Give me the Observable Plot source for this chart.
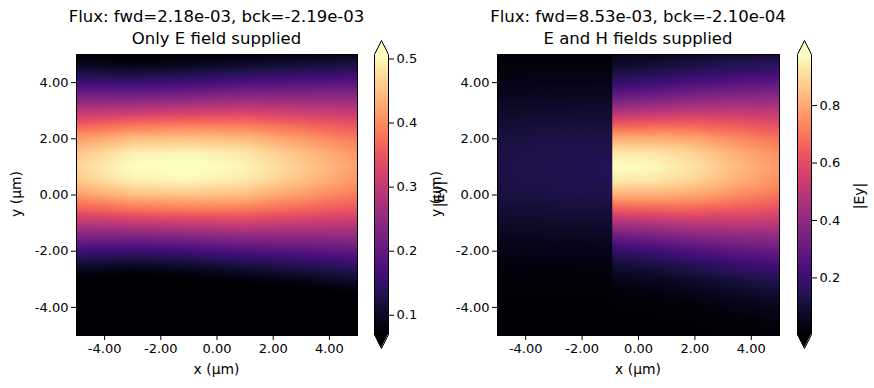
<!DOCTYPE html>
<html><head><meta charset="utf-8">
<script src="https://cdn.jsdelivr.net/npm/d3@7"></script>
<script src="https://cdn.jsdelivr.net/npm/@observablehq/plot@0.6"></script>
<style>
html,body{margin:0;padding:0;background:#fff;}
#root{position:relative;width:874px;height:388px;font-family:"DejaVu Sans",sans-serif;color:#000;overflow:hidden;}
#root svg{position:absolute;top:0;}
.t{position:absolute;white-space:nowrap;transform:translate(-50%,-50%);line-height:1;}
.r{transform:translate(-50%,-50%) rotate(-90deg);}
.title{position:absolute;white-space:nowrap;transform:translateX(-50%);text-align:center;font-size:16.5px;line-height:22px;}
</style></head><body><div id="root"></div>
<script>
// y sample positions (µm), top to bottom
const ys = [5,4.5,4,3.5,3,2.5,2,1.5,1,0.5,0,-0.5,-1,-1.5,-2,-2.5,-3,-3.5,-4,-4.5,-5];
const axisTicks = [-4,-2,0,2,4];

// Panel 1: Only E field supplied — |Ey| read at these x columns
const xs1 = [-5,-3,-1,1,3,5];
const field1 = [
  [0.070,0.110,0.161,0.224,0.292,0.360,0.417,0.456,0.470,0.456,0.417,0.360,0.292,0.224,0.161,0.110,0.070,0.042,0.024,0.013,0.006],
  [0.061,0.101,0.155,0.223,0.300,0.379,0.447,0.493,0.510,0.493,0.447,0.379,0.300,0.223,0.155,0.101,0.061,0.035,0.019,0.009,0.004],
  [0.067,0.108,0.163,0.232,0.309,0.387,0.453,0.499,0.515,0.499,0.453,0.387,0.309,0.232,0.163,0.108,0.067,0.039,0.021,0.011,0.005],
  [0.078,0.120,0.178,0.244,0.316,0.386,0.446,0.486,0.500,0.486,0.446,0.386,0.316,0.244,0.178,0.122,0.080,0.049,0.028,0.015,0.008],
  [0.086,0.128,0.184,0.245,0.307,0.367,0.416,0.449,0.460,0.449,0.416,0.367,0.307,0.245,0.186,0.134,0.092,0.060,0.037,0.022,0.012],
  [0.095,0.136,0.190,0.246,0.300,0.348,0.386,0.411,0.420,0.411,0.386,0.348,0.300,0.248,0.197,0.150,0.110,0.077,0.051,0.033,0.020]
];
const range1 = [0.07, 0.507];
const cbTicks1 = [0.1,0.2,0.3,0.4,0.5];

// Panel 2: E and H fields supplied — field jumps at the source plane x = -0.93
const sourceX = -0.93;
const xs2left = [-5,-3,-0.88];
const field2left = [
  [0.017,0.027,0.041,0.059,0.078,0.098,0.114,0.126,0.130,0.126,0.114,0.098,0.078,0.059,0.041,0.027,0.017,0.010,0.005,0.003,0.001],
  [0.018,0.029,0.044,0.063,0.084,0.105,0.123,0.136,0.140,0.136,0.123,0.105,0.084,0.063,0.044,0.029,0.018,0.011,0.006,0.003,0.001],
  [0.019,0.030,0.046,0.065,0.087,0.109,0.128,0.141,0.145,0.141,0.128,0.109,0.087,0.065,0.046,0.030,0.019,0.011,0.006,0.003,0.001]
];
const xs2right = [-0.93,0.5,2,3.5,5];
const field2right = [
  [0.048,0.097,0.179,0.301,0.460,0.641,0.811,0.935,0.980,0.935,0.811,0.641,0.460,0.301,0.179,0.097,0.048,0.021,0.009,0.003,0.001],
  [0.058,0.114,0.203,0.328,0.484,0.656,0.815,0.929,0.970,0.929,0.815,0.656,0.484,0.328,0.203,0.116,0.060,0.029,0.013,0.005,0.002],
  [0.078,0.140,0.236,0.362,0.509,0.660,0.794,0.887,0.920,0.887,0.794,0.660,0.509,0.365,0.243,0.150,0.086,0.046,0.023,0.010,0.004],
  [0.098,0.165,0.262,0.382,0.513,0.637,0.743,0.815,0.840,0.815,0.743,0.637,0.513,0.389,0.277,0.186,0.117,0.069,0.039,0.020,0.010],
  [0.112,0.182,0.280,0.394,0.508,0.609,0.694,0.750,0.770,0.750,0.694,0.609,0.508,0.402,0.302,0.215,0.146,0.094,0.057,0.033,0.018]
];
const range2 = [0.003, 0.978];
const cbTicks2 = [0.2,0.4,0.6,0.8];

const titles = [
  ["Flux: fwd=2.18e-03, bck=-2.19e-03", "Only E field supplied"],
  ["Flux: fwd=8.53e-03, bck=-2.10e-04", "E and H fields supplied"]
];
const xLabel = "x (µm)", yLabel = "y (µm)", cLabel = "|Ey|";

const root = document.getElementById("root");
const H = 388, fTop = 54, fBottom = 335;
const baseStyle = {fontFamily: "DejaVu Sans", fontSize: "13px", color: "black", background: "transparent", overflow: "visible"};

function place(el, left) { el.style.left = left + "px"; root.appendChild(el); }
function text(str, x, y, size, rot) {
  const d = document.createElement("div");
  d.className = "t" + (rot ? " r" : "");
  d.style.left = x + "px"; d.style.top = y + "px"; d.style.fontSize = size + "px";
  d.textContent = str; root.appendChild(d);
}
function table(xs, cols) {
  const data = [];
  xs.forEach((x, i) => ys.forEach((y, j) => data.push({x, y, v: cols[i][j]})));
  return data;
}
function rasterPart(xs, cols, xa, xb) {
  return Plot.raster(table(xs, cols), {x: "x", y: "y", fill: "v", interpolate: "barycentric", x1: xa, x2: xb, y1: -5, y2: 5, pixelSize: 1});
}

function heat(parts, domain, fl, fr, svgLeft, svgWidth) {
  const p = Plot.plot({
    width: svgWidth, height: H,
    marginLeft: fl - svgLeft, marginRight: svgLeft + svgWidth - fr,
    marginTop: fTop, marginBottom: H - fBottom,
    x: {domain: [-5, 5]}, y: {domain: [-5, 5]},
    color: {type: "linear", scheme: "magma", domain, clamp: true},
    style: baseStyle,
    marks: [
      ...parts,
      Plot.frame({stroke: "black", strokeWidth: 1}),
      Plot.axisX({ticks: axisTicks, tickFormat: d => d.toFixed(2), tickSize: 5, tickPadding: 3, label: null}),
      Plot.axisY({ticks: axisTicks, tickFormat: d => d.toFixed(2), tickSize: 5, tickPadding: 3, label: null})
    ]
  });
  place(p, svgLeft);
}

function cbar(dom, ticks, barLeft) {
  const [vmin, vmax] = dom;
  const ext = 0.05 * (vmax - vmin);
  const top = vmax + ext, bot = vmin - ext;
  const outline = [{x:0,y:vmin},{x:0,y:vmax},{x:0.5,y:top},{x:1,y:vmax},{x:1,y:vmin},{x:0.5,y:bot},{x:0,y:vmin}];
  const p = Plot.plot({
    width: 60, height: H, marginLeft: 0, marginRight: 46, marginTop: 40, marginBottom: 40,
    x: {domain: [0, 1], axis: null}, y: {domain: [bot, top]},
    color: {type: "linear", scheme: "magma", domain: dom, clamp: true},
    style: baseStyle,
    marks: [
      Plot.raster({fill: (x, y) => y, x1: 0, x2: 1, y1: vmin, y2: vmax, pixelSize: 1}),
      Plot.areaY([{x:0,y:vmax},{x:0.5,y:top},{x:1,y:vmax}], {x: "x", y1: vmax, y2: "y", fill: d3.interpolateMagma(1)}),
      Plot.areaY([{x:0,y:vmin},{x:0.5,y:bot},{x:1,y:vmin}], {x: "x", y1: vmin, y2: "y", fill: d3.interpolateMagma(0)}),
      Plot.line(outline, {x: "x", y: "y", stroke: "black", strokeWidth: 1}),
      Plot.axisY({anchor: "right", ticks, tickFormat: d3.format(".1f"), tickSize: 5, tickPadding: 3, label: null})
    ]
  });
  place(p, barLeft);
}

// Panel 1
heat([rasterPart(xs1, field1, -5, 5)], range1, 76, 357, 0, 372);
cbar(range1, cbTicks1, 374);
// Panel 2: left (dim) part drawn slightly past the source plane, right part on top of it
heat([rasterPart(xs2left, field2left, -5, -0.88), rasterPart(xs2right, field2right, sourceX, 5)], range2, 497, 779, 440, 355);
cbar(range2, cbTicks2, 797);

// texts
const centers = [216.5, 638];
titles.forEach((t, i) => {
  const d = document.createElement("div");
  d.className = "title";
  d.style.left = centers[i] + "px"; d.style.top = "6px";
  d.innerHTML = t[0] + "<br>" + t[1];
  root.appendChild(d);
});
text(xLabel, centers[0], 370, 13.9, false);
text(xLabel, centers[1], 370, 13.9, false);
text(yLabel, 17, 194, 13.9, true);
text(yLabel, 437, 194, 13.9, true);
text(cLabel, 440, 194, 13.9, true);
text(cLabel, 860, 196, 13.9, true);
</script></body></html>
